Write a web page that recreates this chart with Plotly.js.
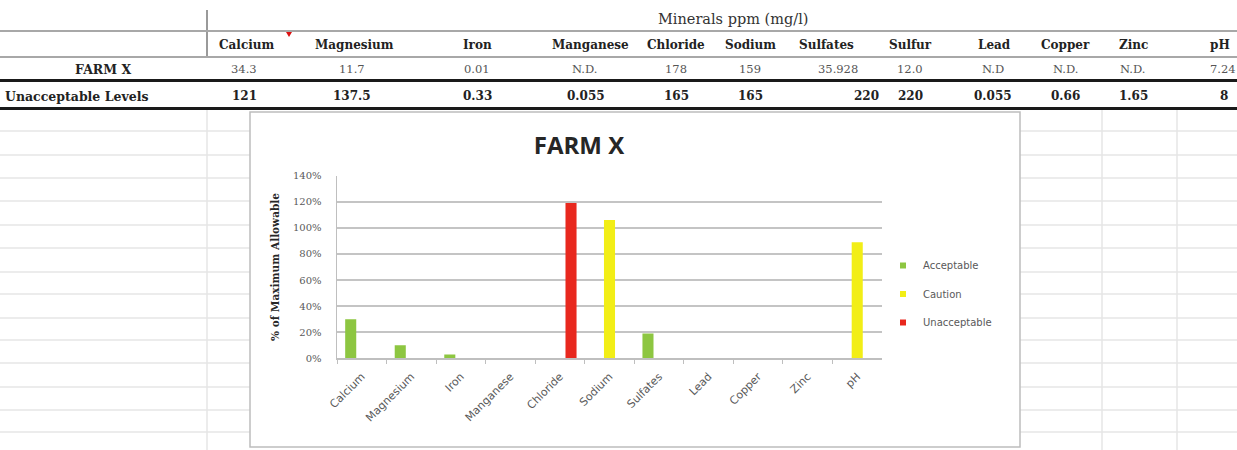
<!DOCTYPE html>
<html>
<head>
<meta charset="utf-8">
<script src="https://cdn.plot.ly/plotly-3.0.1.min.js"></script>
<style>
html,body{margin:0;padding:0;background:#fff;}
#chart{width:1237px;height:450px;}
</style>
</head>
<body>
<div id="chart"></div>
<script>
// ---- Table data ----
const tableGroupTitle = 'Minerals ppm (mg/l)';
const tableColumns = ['Calcium','Magnesium','Iron','Manganese','Chloride','Sodium','Sulfates','Sulfur','Lead','Copper','Zinc','pH'];
const farmLabel = 'FARM X';
const farmValues = ['34.3','11.7','0.01','N.D.','178','159','35.928','12.0','N.D','N.D.','N.D.','7.24'];
const limitLabel = 'Unacceptable Levels';
const limitValues = ['121','137.5','0.33','0.055','165','165','220','220','0.055','0.66','1.65','8'];

// ---- Chart data (% of maximum allowable) ----
const categories = ['Calcium','Magnesium','Iron','Manganese','Chloride','Sodium','Sulfates','Lead','Copper','Zinc','pH'];
const acceptable   = [30, 10, 3, 0, null, null, 19, 0, 0, 0, null];
const caution      = [null, null, null, null, null, 106, null, null, null, null, 89];
const unacceptable = [null, null, null, null, 119, null, null, null, null, null, null];
const seriesNames = ['Acceptable','Caution','Unacceptable'];

// ---- layout helpers (pixel -> paper) ----
const W = 1237, H = 450;
const px = x => x / W;
const py = y => 1 - y / H;

const colors = ['#8DC641', '#F2EE16', '#E8281E'];

const traces = [acceptable, caution, unacceptable].map((vals, i) => ({
  type: 'bar',
  name: seriesNames[i],
  x: categories,
  y: vals,
  marker: {color: colors[i]},
  showlegend: false,
  hoverinfo: 'x+y'
}));
// legend entries with small square markers
seriesNames.forEach((n, i) => {
  traces.push({
    type: 'scatter', mode: 'markers', name: n,
    x: [null], y: [null],
    marker: {symbol: 'square', size: 6, color: colors[i]},
    legendgroup: n, showlegend: true
  });
});

// ---- spreadsheet shapes ----
const shapes = [];
const grid = '#E6E6E6';
[131,155,178,201,225,248,272,294,318,340,363,387,410,432].forEach(y => {
  shapes.push({type:'line', xref:'paper', yref:'paper', x0:0, x1:1, y0:py(y), y1:py(y), line:{color:grid, width:1.5}, layer:'below'});
});
[207, 1102, 1177].forEach(x => {
  shapes.push({type:'line', xref:'paper', yref:'paper', x0:px(x), x1:px(x), y0:py(110), y1:py(450), line:{color:grid, width:1.5}, layer:'below'});
});
// table lines
shapes.push({type:'line', xref:'paper', yref:'paper', x0:px(207), x1:px(207), y0:py(10), y1:py(58), line:{color:'#9a9a9a', width:2}, layer:'below'});
shapes.push({type:'line', xref:'paper', yref:'paper', x0:0, x1:1, y0:py(31), y1:py(31), line:{color:'#a8a8a8', width:2}, layer:'below'});
shapes.push({type:'line', xref:'paper', yref:'paper', x0:0, x1:1, y0:py(57), y1:py(57), line:{color:'#a8a8a8', width:2}, layer:'below'});
shapes.push({type:'line', xref:'paper', yref:'paper', x0:0, x1:1, y0:py(80.5), y1:py(80.5), line:{color:'#1a1a1a', width:3}, layer:'below'});
shapes.push({type:'line', xref:'paper', yref:'paper', x0:0, x1:1, y0:py(108.5), y1:py(108.5), line:{color:'#1a1a1a', width:3}, layer:'below'});
// comment indicator
shapes.push({type:'path', xref:'paper', yref:'paper', path:`M ${px(286)} ${py(32)} L ${px(292)} ${py(32)} L ${px(289)} ${py(37)} Z`, fillcolor:'#d11', line:{width:0}, layer:'below'});
// chart box
shapes.push({type:'rect', xref:'paper', yref:'paper', x0:px(250), x1:px(1020), y0:py(112), y1:py(447), fillcolor:'#ffffff', line:{color:'#bdbdbd', width:1.5}, layer:'below'});

// ---- table annotations ----
const colX = [246, 354, 477, 590, 676, 750, 826, 910, 994, 1065, 1133, 1220];
const farmX = [244, 352, 477, 584, 676, 750, 838, 910, 993, 1065, 1132, 1223];
const limitX = [244, 352, 477, 586, 676, 750, 866, 910, 993, 1065, 1133, 1224];
const serif = 'DejaVu Serif, serif';
const annotations = [];
annotations.push({text: tableGroupTitle, x: px(733), y: py(19), xref:'paper', yref:'paper', showarrow:false, xanchor:'center', yanchor:'middle', font:{family:serif, size:14.5, color:'#333'}});
tableColumns.forEach((c, i) => annotations.push({text:'<b>'+c+'</b>', x:px(colX[i]), y:py(45), xref:'paper', yref:'paper', showarrow:false, xanchor:'center', yanchor:'middle', font:{family:serif, size:12, color:'#222'}}));
annotations.push({text:'<b>'+farmLabel+'</b>', x:px(103), y:py(69), xref:'paper', yref:'paper', showarrow:false, xanchor:'center', yanchor:'middle', font:{family:serif, size:12.5, color:'#222'}});
farmValues.forEach((v, i) => annotations.push({text:v, x:px(farmX[i]), y:py(69), xref:'paper', yref:'paper', showarrow:false, xanchor:'center', yanchor:'middle', font:{family:serif, size:11.5, color:'#555'}}));
annotations.push({text:'<b>'+limitLabel+'</b>', x:px(3), y:py(96), xref:'paper', yref:'paper', showarrow:false, xanchor:'left', yanchor:'middle', font:{family:serif, size:12.5, color:'#222'}});
limitValues.forEach((v, i) => annotations.push({text:'<b>'+v+'</b>', x:px(limitX[i]), y:py(96), xref:'paper', yref:'paper', showarrow:false, xanchor:'center', yanchor:'middle', font:{family:serif, size:12, color:'#222'}}));
// y-axis title
annotations.push({text:'<b>% of Maximum Allowable</b>', x:px(275), y:py(267), xref:'paper', yref:'paper', showarrow:false, textangle:-90, xanchor:'center', yanchor:'middle', font:{family:serif, size:10.5, color:'#262626'}});

const layout = {
  width: W, height: H,
  margin: {l:0, r:0, t:0, b:0},
  paper_bgcolor: '#ffffff',
  plot_bgcolor: 'rgba(0,0,0,0)',
  barmode: 'group',
  bargap: 0.33,
  bargroupgap: 0,
  title: {text:'<b>FARM X</b>', x: px(579), y: py(146), xref:'paper', yref:'paper', xanchor:'center', yanchor:'middle', font:{family:'Open Sans, Liberation Sans, sans-serif', size:24, color:'#262626'}},
  xaxis: {
    domain: [px(337), px(882)],
    type: 'category',
    tickangle: -45,
    tickfont: {family:'DejaVu Sans, sans-serif', size:11, color:'#595959'},
    ticklabelstandoff: 6,
    showline: true, linecolor:'#BFBFBF', linewidth:1.5,
    ticks: 'outside', tickson: 'boundaries', ticklen: 4, tickcolor:'#BFBFBF',
    showgrid: false, zeroline:false, fixedrange:true
  },
  yaxis: {
    domain: [py(358.3), py(175.7)],
    range: [0, 140],
    dtick: 20, tick0: 0,
    ticksuffix: '%',
    tickfont: {family:serif, size:10, color:'#595959'},
    ticklabelstandoff: 12,
    showgrid: true, gridcolor:'#C4C4C4', gridwidth:1.6,
    showline: true, linecolor:'#BFBFBF', linewidth:1.5,
    zeroline: false,
    fixedrange: true
  },
  legend: {
    x: px(883), y: py(251), xanchor:'left', yanchor:'top',
    font: {family:'DejaVu Sans, sans-serif', size:10, color:'#595959'},
    traceorder: 'grouped', tracegroupgap: 9.5,
    bgcolor: 'rgba(0,0,0,0)', itemwidth: 30
  },
  shapes: shapes,
  annotations: annotations
};

Plotly.newPlot('chart', traces, layout, {displayModeBar:false, staticPlot:true});
</script>
</body>
</html>
